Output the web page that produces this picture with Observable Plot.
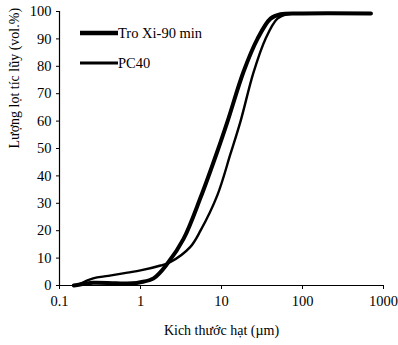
<!DOCTYPE html>
<html>
<head>
<meta charset="utf-8">
<script src="https://cdn.jsdelivr.net/npm/d3@7"></script>
<script src="https://cdn.jsdelivr.net/npm/@observablehq/plot@0.6"></script>
<style>
  html, body { margin: 0; padding: 0; background: #fff; }
  #wrap { position: relative; width: 398px; height: 345px; font-family: "Liberation Serif", "DejaVu Serif", serif; }
  #legend { position: absolute; left: 80px; top: 18px; font-size: 14.5px; color: #000; font-family: "Liberation Serif", serif; }
  .item { display: flex; align-items: center; height: 30px; }
  .item svg { display: block; }
</style>
</head>
<body>
<div id="wrap"><div id="chart"></div><div id="legend"></div></div>
<script>
// Particle size (µm) and cumulative volume (%)
const seriesNames = ["Tro Xi-90 min", "PC40"];
const troXiSize  = [0.15, 0.18, 0.26, 0.5, 0.8, 1, 1.45, 2.15, 3.4, 5.5, 8.9, 11.9, 18.7, 27.8, 40.3, 53.5, 100, 700];
const troXiValue = [0, 0.4, 1, 0.8, 0.8, 1.2, 2.6, 8, 17, 32, 49, 60, 78, 90, 97.4, 99, 99.3, 99.3];
const pc40Size   = [0.17, 0.26, 0.4, 0.69, 1, 1.77, 2.35, 4.1, 5.5, 8.9, 12.9, 17.2, 24.8, 34.9, 49, 65, 100, 700];
const pc40Value  = [0.3, 2.6, 3.5, 4.7, 5.5, 7.3, 8.6, 14, 20, 33, 48, 60, 77.7, 90, 97.4, 99, 99.3, 99.3];
const xTicks = [0.1, 1, 10, 100, 1000];
const yTicks = [0, 10, 20, 30, 40, 50, 60, 70, 80, 90, 100];
const xLabel = "Kich thước hạt (µm)";
const yLabel = "Lượng lọt tíc lũy (vol.%)";

const widths = {"Tro Xi-90 min": 4, "PC40": 2.4};

const data = [
  ...troXiSize.map((s, i) => ({series: seriesNames[0], size: s, value: troXiValue[i]})),
  ...pc40Size.map((s, i) => ({series: seriesNames[1], size: s, value: pc40Value[i]}))
];

const chart = Plot.plot({
  width: 398,
  height: 345,
  marginLeft: 59,
  marginRight: 15,
  marginTop: 11,
  marginBottom: 60,
  style: {fontFamily: "'Liberation Serif', serif", fontSize: "14px", color: "#000", background: "#fff"},
  x: {type: "log", domain: [0.1, 1000]},
  y: {domain: [0, 100]},
  marks: [
    Plot.ruleY([0], {stroke: "#000", strokeWidth: 1.2}),
    Plot.ruleX([0.1], {stroke: "#000", strokeWidth: 1.2}),
    Plot.axisX({ticks: xTicks, tickFormat: d => String(d), tickSize: 4, tickPadding: 6, label: null, fontSize: 14.5}),
    Plot.axisY({ticks: yTicks, tickSize: 3, tickPadding: 5, label: null, fontSize: 14.5}),
    Plot.text([xLabel], {frameAnchor: "bottom", dy: 49, fontSize: 14}),
    Plot.text([yLabel], {frameAnchor: "left", dx: -45, rotate: -90, fontSize: 14}),
    ...seriesNames.map(name =>
      Plot.line(data.filter(d => d.series === name), {
        x: "size", y: "value", stroke: "#000", strokeWidth: widths[name], curve: "catmull-rom"
      })
    )
  ]
});
document.getElementById("chart").appendChild(chart);

const legend = document.getElementById("legend");
for (const name of seriesNames) {
  const item = document.createElement("div");
  item.className = "item";
  item.innerHTML = `<svg width="38" height="10"><line x1="0" x2="38" y1="5" y2="5" stroke="#000" stroke-width="${widths[name] + 0.5}"/></svg><span>${name}</span>`;
  legend.appendChild(item);
}
</script>
</body>
</html>
